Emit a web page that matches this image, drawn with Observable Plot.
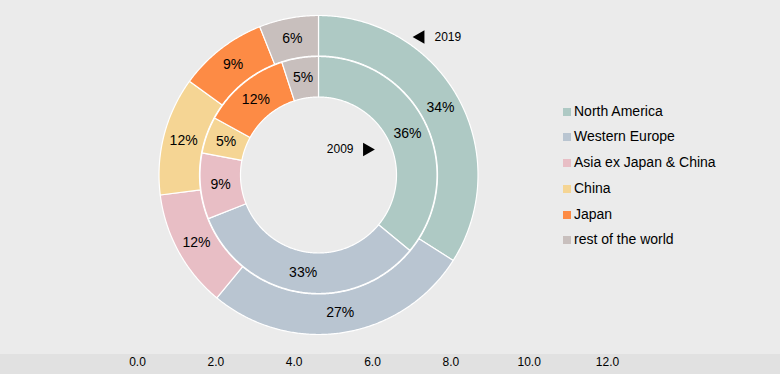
<!DOCTYPE html>
<html>
<head>
<meta charset="utf-8">
<script src="https://cdn.jsdelivr.net/npm/d3@7"></script>
<script src="https://cdn.jsdelivr.net/npm/@observablehq/plot@0.6"></script>
<style>
  html, body { margin: 0; padding: 0; background: #ebebeb; }
  #wrap { position: relative; width: 780px; height: 374px; background: #ebebeb; font-family: "Liberation Sans", Arial, sans-serif; overflow: hidden; }
  #wrap svg { display: block; }
  #legend { position: absolute; left: 563px; top: 98.5px; font-size: 14px; color: #000; }
  #legend .row { height: 25.8px; line-height: 25.8px; white-space: nowrap; }
  #legend .sw { display: inline-block; width: 8px; height: 8px; margin-right: 3px; }
</style>
</head>
<body>
<div id="wrap"><div id="pie"></div><div id="axis"></div><div id="legend"></div></div>
<script>
// ---- data ----
const regions = ["North America", "Western Europe", "Asia ex Japan & China", "China", "Japan", "rest of the world"];
const regionColors = ["#aec9c4", "#b9c5d1", "#e8bec5", "#f5d594", "#fd8b45", "#c8bfbd"];
const values2019 = [34, 27, 12, 12, 9, 6];
const values2009 = [36, 33, 9, 5, 12, 5];
const years = ["2019", "2009"];
const axisTicks = [0, 2, 4, 6, 8, 10, 12];

// ---- geometry (unit = outer radius) ----
const R = 159.5, CX = 318, CY = 174.5;
const rings = [
  {year: years[0], values: values2019, r0: 119 / R, r1: 1},
  {year: years[1], values: values2009, r0: 78 / R, r1: 118.5 / R}
];

const polys = [];
const labels = [];
for (const ring of rings) {
  const total = d3.sum(ring.values);
  let cum = 0;
  ring.values.forEach((v, i) => {
    const a0 = 2 * Math.PI * cum / total;
    const a1 = 2 * Math.PI * (cum + v) / total;
    const n = Math.max(2, Math.ceil((a1 - a0) / (Math.PI / 360)) + 1);
    const key = ring.year + "-" + i;
    for (let k = 0; k < n; k++) {
      const a = a0 + (a1 - a0) * k / (n - 1);
      polys.push({key, region: regions[i], x: ring.r1 * Math.sin(a), y: ring.r1 * Math.cos(a)});
    }
    for (let k = n - 1; k >= 0; k--) {
      const a = a0 + (a1 - a0) * k / (n - 1);
      polys.push({key, region: regions[i], x: ring.r0 * Math.sin(a), y: ring.r0 * Math.cos(a)});
    }
    const am = (a0 + a1) / 2, rm = (ring.r0 + ring.r1) / 2;
    labels.push({x: rm * Math.sin(am), y: rm * Math.cos(am), text: v + "%"});
    cum += v;
  });
}

const annTri = [
  {x: (420 - CX) / R, y: (CY - 36.5) / R, rot: -90},
  {x: (366.5 - CX) / R, y: (CY - 149) / R, rot: 90}
];
const annText = [
  {x: (434 - CX) / R, y: (CY - 37) / R, text: years[0], anchor: "start"},
  {x: (353 - CX) / R, y: (CY - 149) / R, text: years[1], anchor: "end"}
];

const font = "'Liberation Sans', Arial, sans-serif";

const pie = Plot.plot({
  width: 780,
  height: 354,
  margin: 0,
  style: {background: "transparent", fontFamily: font, color: "#000"},
  x: {domain: [-1, 1], range: [CX - R, CX + R], axis: null},
  y: {domain: [-1, 1], range: [CY + R, CY - R], axis: null},
  color: {domain: regions, range: regionColors},
  marks: [
    Plot.line(polys, {x: "x", y: "y", z: "key", fill: "region", stroke: "#ffffff", strokeWidth: 1.2, curve: "linear-closed"}),
    Plot.text(labels, {x: "x", y: "y", text: "text", fontSize: 14, fill: "#000"}),
    Plot.dot(annTri, {x: "x", y: "y", symbol: "triangle2", r: 6.5, rotate: "rot", fill: "#000", stroke: null}),
    Plot.text(annText.filter(d => d.anchor === "start"), {x: "x", y: "y", text: "text", textAnchor: "start", fontSize: 12, fill: "#000"}),
    Plot.text(annText.filter(d => d.anchor === "end"), {x: "x", y: "y", text: "text", textAnchor: "end", fontSize: 12, fill: "#000"})
  ]
});
document.getElementById("pie").appendChild(pie);

const axis = Plot.plot({
  width: 780,
  height: 20,
  marginTop: 0,
  marginBottom: 20,
  marginLeft: 0,
  marginRight: 0,
  style: {background: "#e1e1e1", fontFamily: font, fontSize: "12px", color: "#000"},
  x: {domain: [0, 12], range: [137, 607]},
  marks: [
    Plot.axisX(axisTicks, {anchor: "bottom", tickSize: 0, tickPadding: 3, tickFormat: d3.format(".1f"), fill: "#000", fontSize: 12, label: null})
  ]
});
document.getElementById("axis").appendChild(axis);

// legend
const legend = document.getElementById("legend");
regions.forEach((r, i) => {
  const row = document.createElement("div");
  row.className = "row";
  const sw = document.createElement("span");
  sw.className = "sw";
  sw.style.background = regionColors[i];
  row.appendChild(sw);
  row.appendChild(document.createTextNode(r));
  legend.appendChild(row);
});
</script>
</body>
</html>
